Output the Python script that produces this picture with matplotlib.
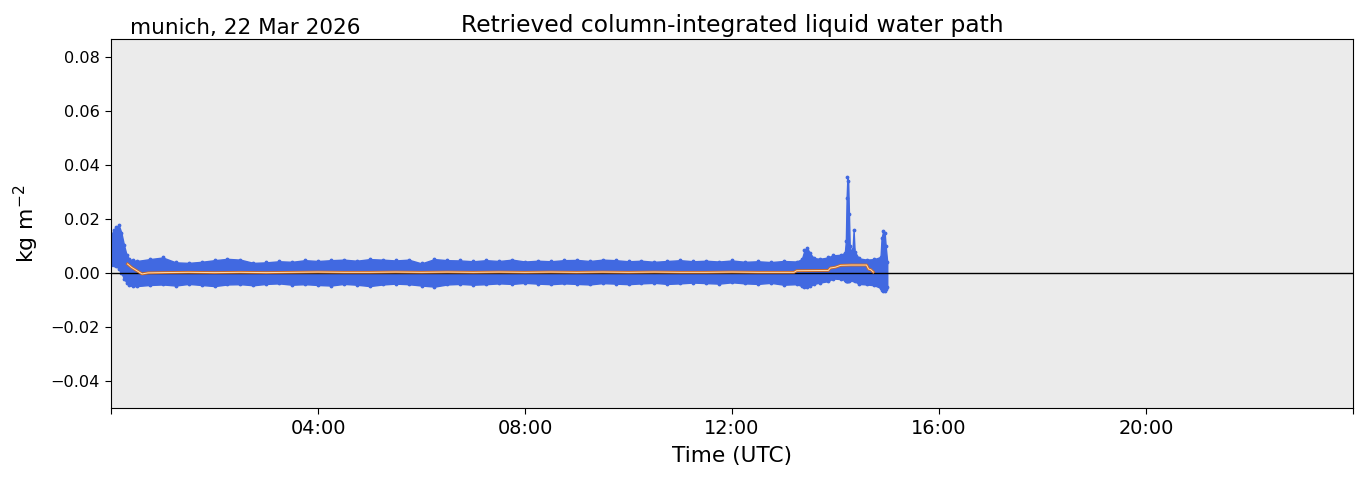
import numpy as np
import matplotlib
matplotlib.use("Agg")
import matplotlib.pyplot as plt

# Envelope of the retrieved LWP scatter (hours UTC, kg m-2)
t_band = [0.0, 0.05, 0.10, 0.15, 0.20, 0.25, 0.30, 0.35, 0.42,
          0.50, 0.75, 1.00, 1.25, 1.50, 1.75, 2.00, 2.25, 2.50, 2.75, 3.00, 3.25,
          3.50, 3.75, 4.00, 4.25, 4.50, 4.75, 5.00, 5.25, 5.50, 5.75, 6.00, 6.25,
          6.50, 6.75, 7.00, 7.25, 7.50, 7.75, 8.00, 8.25, 8.50, 8.75, 9.00, 9.25,
          9.50, 9.75, 10.00, 10.25, 10.50, 10.75, 11.00, 11.25, 11.50, 11.75, 12.00, 12.25,
          12.50, 12.75, 13.00, 13.25,
          13.35, 13.40, 13.45, 13.50, 13.58, 13.70, 13.85, 13.95, 14.10, 14.18, 14.20, 14.215,
          14.23, 14.245, 14.26, 14.275, 14.30, 14.33, 14.35, 14.37, 14.45, 14.60, 14.75, 14.87,
          14.89, 14.92, 14.95, 14.97, 15.00]
lwp_upper = [0.0140, 0.0160, 0.0170, 0.0178, 0.0150, 0.0105, 0.0068, 0.0052, 0.0048,
             0.0045, 0.0052, 0.0058, 0.0040, 0.0038, 0.0042, 0.0048, 0.0053, 0.0050, 0.0038, 0.0040, 0.0044,
             0.0042, 0.0048, 0.0045, 0.0048, 0.0050, 0.0046, 0.0052, 0.0050, 0.0047, 0.0050, 0.0036, 0.0052,
             0.0048, 0.0047, 0.0044, 0.0048, 0.0045, 0.0050, 0.0043, 0.0046, 0.0044, 0.0048, 0.0049, 0.0045,
             0.0050, 0.0048, 0.0044, 0.0046, 0.0042, 0.0045, 0.0048, 0.0044, 0.0046, 0.0043, 0.0047, 0.0042,
             0.0044, 0.0041, 0.0045, 0.0043,
             0.0052, 0.0085, 0.0095, 0.0075, 0.0056, 0.0053, 0.0058, 0.0066, 0.0068, 0.0075, 0.0120, 0.0280,
             0.0355, 0.0340, 0.0220, 0.0100, 0.0080, 0.0090, 0.0160, 0.0080, 0.0055, 0.0050, 0.0052, 0.0060,
             0.0130, 0.0155, 0.0150, 0.0100, 0.0040]
lwp_lower = [0.0030, 0.0032, 0.0028, 0.0015, 0.0000, -0.0020, -0.0035, -0.0045, -0.0048,
             -0.0048, -0.0044, -0.0042, -0.0046, -0.0040, -0.0044, -0.0048, -0.0042, -0.0041, -0.0045, -0.0040, -0.0038,
             -0.0043, -0.0041, -0.0044, -0.0046, -0.0040, -0.0043, -0.0048, -0.0042, -0.0039, -0.0041, -0.0046, -0.0050,
             -0.0042, -0.0040, -0.0043, -0.0041, -0.0038, -0.0040, -0.0036, -0.0039, -0.0041, -0.0038, -0.0040, -0.0042,
             -0.0037, -0.0039, -0.0041, -0.0038, -0.0036, -0.0040, -0.0038, -0.0035, -0.0037, -0.0039, -0.0034, -0.0038,
             -0.0040, -0.0036, -0.0043, -0.0041,
             -0.0048, -0.0052, -0.0050, -0.0048, -0.0040, -0.0035, -0.0030, -0.0020, -0.0022, -0.0025, -0.0028, -0.0030,
             -0.0030, -0.0030, -0.0028, -0.0024, -0.0020, -0.0025, -0.0025, -0.0030, -0.0040, -0.0042, -0.0045, -0.0055,
             -0.0062, -0.0068, -0.0066, -0.0060, -0.0050]

# Running mean (orange line)
t_mean = [0.32, 0.40, 0.50, 0.60, 0.72, 1.0, 1.5, 2.0, 2.5, 3.0, 3.5, 4.0, 4.5, 5.0, 5.5,
          6.0, 6.5, 7.0, 7.5, 8.0, 8.5, 9.0, 9.5, 10.0, 10.5, 11.0, 11.5, 12.0, 12.5,
          13.0, 13.2, 13.25, 13.86, 13.9, 14.0, 14.1, 14.3, 14.6, 14.64, 14.68, 14.73]
lwp_mean = [0.0034, 0.0021, 0.0009, -0.0003, 0.0001, 0.0002, 0.0003, 0.0002, 0.0003, 0.0002, 0.0003,
            0.0004, 0.0003, 0.0003, 0.0004, 0.0003, 0.0004, 0.0003, 0.0004, 0.0003, 0.0004, 0.0003,
            0.0004, 0.0003, 0.0004, 0.0003, 0.0003, 0.0004, 0.0003, 0.0003, 0.0003, 0.0009, 0.0010,
            0.0019, 0.0022, 0.0029, 0.0030, 0.0030, 0.0015, 0.0013, 0.0004]

xtick_hours = [0, 4, 8, 12, 16, 20, 24]
xtick_labels = ["", "04:00", "08:00", "12:00", "16:00", "20:00", ""]

fig, ax = plt.subplots(figsize=(13.63, 4.78), dpi=100)
fig.subplots_adjust(left=111/1363, right=1353/1363, top=1-39/478, bottom=1-408/478)
ax.set_facecolor("#ebebeb")

blue = "royalblue"
ax.fill_between(t_band, lwp_lower, lwp_upper, color=blue, lw=1.0, edgecolor=blue, zorder=2)
ax.scatter(t_band, lwp_upper, s=3, color=blue, zorder=2)
ax.scatter(t_band, lwp_lower, s=3, color=blue, zorder=2)

ax.axhline(0, color="k", lw=1, zorder=3)

# orange line with a pale centre
ax.plot(t_mean, lwp_mean, color="#d2691e", lw=2.0, zorder=4)
ax.plot(t_mean, lwp_mean, color="#ffdcb0", lw=0.7, zorder=5)

ax.set_xlim(0, 24)
ax.set_ylim(-0.05, 0.0868)
ax.set_xticks(xtick_hours)
ax.set_xticklabels(xtick_labels)
ax.set_yticks([-0.04, -0.02, 0.0, 0.02, 0.04, 0.06, 0.08])
ax.set_yticklabels(["\u22120.04", "\u22120.02", "0.00", "0.02", "0.04", "0.06", "0.08"])
ax.tick_params(axis="x", labelsize=13.9, length=4.5)
ax.tick_params(axis="y", labelsize=11.6, length=4.5)

ax.set_xlabel("Time (UTC)", fontsize=15.6, labelpad=5.5)
ax.set_ylabel("kg m$^{-2}$", fontsize=15.8, labelpad=7)
ax.set_title("Retrieved column-integrated liquid water path", fontsize=16.8, pad=5)
ax.text(0.015, 1.003, "munich, 22 Mar 2026", transform=ax.transAxes,
        fontsize=15.5, ha="left", va="bottom")

fig.savefig("out.png", dpi=100)
